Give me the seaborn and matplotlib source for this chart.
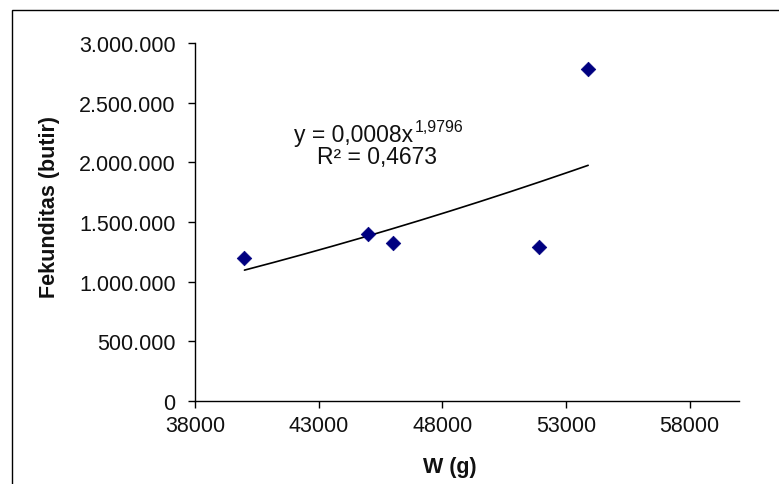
import numpy as np
import pandas as pd
import matplotlib
matplotlib.use("Agg")
import matplotlib.pyplot as plt
import matplotlib.ticker as mticker
from matplotlib.patches import Rectangle
import seaborn as sns

# ---- data ----
weight_g = [40000, 45000, 46000, 51900, 53900]
fecundity = [1195000, 1398000, 1320000, 1293000, 2783000]
x_ticks = [38000, 43000, 48000, 53000, 58000]
y_ticks = [0, 500000, 1000000, 1500000, 2000000, 2500000, 3000000]
x_label = "W (g)"
y_label = "Fekunditas (butir)"
eq_main = "y = 0,0008x"
eq_exp = "1,9796"
r2_text = "R² = 0,4673"

sns.set_theme(style="white")
plt.rcParams["font.family"] = ["Liberation Sans", "DejaVu Sans"]

df = pd.DataFrame({"W": weight_g, "F": fecundity})

# power trendline fitted in log space (as Excel does)
b, ln_a = np.polyfit(np.log(df["W"]), np.log(df["F"]), 1)
xs = np.linspace(df["W"].min(), df["W"].max(), 200)
trend = pd.DataFrame({"W": xs, "F": np.exp(ln_a) * xs ** b})

W, H = 779, 485
fig = plt.figure(figsize=(W / 100, H / 100), dpi=100)
fig.patch.set_facecolor("white")
ax = fig.add_axes([195 / W, 1 - 402 / H, (739 - 195) / W, (402 - 44) / H])
ax.set_facecolor("none")

# outer chart border
fig.patches.append(Rectangle((12 / W, -0.05), 1.2, 1 - 11 / H + 0.05,
                             transform=fig.transFigure, fill=False,
                             edgecolor="black", linewidth=1.0))

sns.lineplot(data=trend, x="W", y="F", ax=ax, color="black", linewidth=1.2,
             zorder=2)
sns.scatterplot(data=df, x="W", y="F", ax=ax, marker="D", s=55,
                color="#000080", edgecolor="#000080", linewidth=0.5, zorder=3)

ax.set_xlim(38000, 60000)
ax.set_ylim(0, 3000000)
ax.set_xticks(x_ticks)
ax.set_yticks(y_ticks)
ax.yaxis.set_major_formatter(
    mticker.FuncFormatter(lambda v, p: f"{int(v):,}".replace(",", ".")))
ax.xaxis.set_major_formatter(mticker.FuncFormatter(lambda v, p: f"{int(v)}"))

for s in ["top", "right"]:
    ax.spines[s].set_visible(False)
for s in ["left", "bottom"]:
    ax.spines[s].set_color("black")
    ax.spines[s].set_linewidth(1.0)

ax.tick_params(axis="both", which="major", direction="out", length=5,
               width=1.0, color="black", labelsize=15.5, labelcolor="#111111",
               left=True, bottom=True)
ax.tick_params(axis="y", pad=9)
ax.tick_params(axis="x", pad=5)

ax.set_xlabel(x_label, fontsize=15.5, fontweight="bold", color="#111111")
ax.set_ylabel(y_label, fontsize=15.5, fontweight="bold", color="#111111")
ax.xaxis.set_label_coords(0.469, -0.155)
ax.yaxis.set_label_coords(-0.249, 0.545)

# equation annotation
fig.text(413 / W, 1 - 142 / H, eq_main, ha="right", va="baseline",
         fontsize=16.5, color="#111111")
fig.text(415 / W, 1 - 132 / H, eq_exp, ha="left", va="baseline",
         fontsize=11.5, color="#111111")
fig.text(377 / W, 1 - 164 / H, r2_text, ha="center", va="baseline",
         fontsize=16.5, color="#111111")

fig.savefig("out.png", dpi=100, facecolor="white")
